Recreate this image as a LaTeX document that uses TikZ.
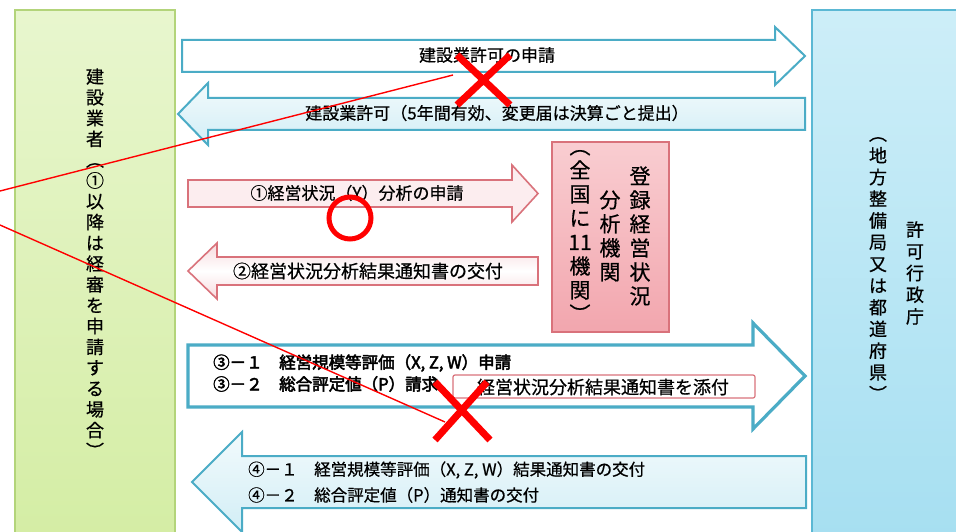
\documentclass[tikz,border=0pt]{standalone}
\usepackage{fontspec}
\setmainfont{Noto Sans CJK JP}[FakeBold=0.6]
\newfontfamily\jpbold[FakeBold=3]{Noto Sans CJK JP}
\definecolor{tealb}{HTML}{4BACC6}
\definecolor{greenb}{HTML}{B3D47A}
\definecolor{greenT}{HTML}{E8F6CE}
\definecolor{greenB}{HTML}{D4EDA4}
\definecolor{blueb}{HTML}{5BB8D4}
\definecolor{blueT}{HTML}{CDEEF8}
\definecolor{blueB}{HTML}{A6DFF1}
\definecolor{cyanT}{HTML}{F2FAFC}
\definecolor{cyanB}{HTML}{D2EEF6}
\definecolor{pinkD}{HTML}{D9727B}
\definecolor{pinkL}{HTML}{FCEDEF}
\definecolor{pinkM}{HTML}{F8DADD}
\definecolor{pinkT}{HTML}{F9CDD1}
\definecolor{pinkB}{HTML}{F2A6AE}
\begin{document}
\begin{tikzpicture}[x=1pt,y=-1pt,
  vtext/.style={align=center, inner sep=0pt},
  htext/.style={inner sep=0pt, font=\fontsize{17}{20}\selectfont},
  tealarrow/.style={draw=tealb, line width=2pt, line join=miter},
  pinkarrow/.style={draw=pinkD, line width=1.6pt, line join=miter},
  redmark/.style={draw=red, line width=7pt},
  redline/.style={draw=red, line width=1.4pt}]
\useasboundingbox (0,0) rectangle (956,532);
\clip (0,0) rectangle (956,532);
\fill[white] (0,0) rectangle (956,532);

% side boxes
\draw[draw=greenb, line width=1.2pt, top color=greenT, bottom color=greenB] (15,10) rectangle (175,545);
\draw[draw=blueb, line width=1.5pt, top color=blueT, bottom color=blueB] (812,10) rectangle (975,545);

\node[vtext, font=\fontsize{18}{20.8}\selectfont] (contractor) at (95,263)
  {建\\設\\業\\者\\︵\\①\\以\\降\\は\\経\\審\\を\\申\\請\\す\\る\\場\\合\\︶};
\node[vtext, font=\fontsize{18}{21.7}\selectfont] (authA) at (915,273)
  {許\\可\\行\\政\\庁};
\node[vtext, font=\fontsize{18}{21.7}\selectfont] (authB) at (878,269)
  {︵\\地\\方\\整\\備\\局\\又\\は\\都\\道\\府\\県\\︶};

% arrow 1
\draw[tealarrow, fill=white] (182,40) -- (775,40) -- (775,27) -- (805,56) -- (775,85) -- (775,72) -- (182,72) -- cycle;
\node[htext] (t1) at (487,55) {建設業許可の申請};
% arrow 2
\draw[tealarrow, top color=cyanT, bottom color=cyanB] (805,98) -- (208,98) -- (208,83) -- (178,114) -- (208,145) -- (208,130) -- (805,130) -- cycle;
\node[htext] (t2) at (497,113) {建設業許可（5年間有効、変更届は決算ごと提出）};

% pink arrows
\draw[pinkarrow, fill=pinkL] (188,180) -- (512,180) -- (512,165) -- (538,193.5) -- (512,222) -- (512,207) -- (188,207) -- cycle;
\node[htext] (t3) at (357,193) {①経営状況（Y）分析の申請};
\draw[pinkarrow, top color=pinkM, bottom color=pinkM, middle color=white] (538,257) -- (217,257) -- (217,243) -- (188,271) -- (217,299) -- (217,285) -- (538,285) -- cycle;
\node[htext, font=\fontsize{18}{20}\selectfont] (t4) at (368,271) {②経営状況分析結果通知書の交付};

% pink box
\draw[draw=pinkD, line width=1.2pt, top color=pinkT, bottom color=pinkB] (552,142) rectangle (669,332);
\node[vtext, font=\fontsize{21}{24}\selectfont] (reg1) at (640,236) {登\\録\\経\\営\\状\\況};
\node[vtext, font=\fontsize{21}{24}\selectfont] (reg2) at (610,236) {分\\析\\機\\関};
\node[vtext, font=\fontsize{21}{24}\selectfont] (reg3) at (580,236) {︵\\全\\国\\に\\11\\機\\関\\︶};

% big arrow 5
\draw[tealarrow, line width=3.2pt, fill=white] (188,345) -- (753,345) -- (753,323) -- (805,376) -- (753,429) -- (753,407) -- (188,407) -- cycle;
\node[htext, font=\jpbold\fontsize{16.5}{20}\selectfont, anchor=west] (t5a) at (213,363) {③－１　経営規模等評価（X, Z, W）申請};
\node[htext, font=\jpbold\fontsize{16.5}{20}\selectfont, anchor=west] (t5b) at (213,384) {③－２　総合評定値（P）請求};
\draw[draw=pinkD, line width=1.2pt, fill=white, rounded corners=2pt] (453,375) rectangle (755,398);
\node[htext, font=\fontsize{18}{20}\selectfont] (attach) at (603,387) {経営状況分析結果通知書を添付};

% big arrow 6
\draw[tealarrow, top color=cyanT, bottom color=cyanB] (806,456) -- (242,456) -- (242,432) -- (192,482) -- (242,532) -- (242,508) -- (806,508) -- cycle;
\node[htext, font=\fontsize{16.5}{20}\selectfont, anchor=west] (t6a) at (248,470) {④－１　経営規模等評価（X, Z, W）結果通知書の交付};
\node[htext, font=\fontsize{16.5}{20}\selectfont, anchor=west] (t6b) at (248,495) {④－２　総合評定値（P）通知書の交付};

% red marks
\coordinate (l1a) at (0,191);
\coordinate (l1b) at (453,75);
\coordinate (l2a) at (0,225);
\coordinate (l2b) at (445,422);
\draw[redline] (l1a) -- (l1b);
\draw[redline] (l2a) -- (l2b);
\node[circle, draw=red, line width=5pt, minimum size=42pt, inner sep=0pt] (okmark) at (350,218) {};
\coordinate (x1a) at (457,55); \coordinate (x1b) at (510,105);
\coordinate (x1c) at (510,55); \coordinate (x1d) at (457,105);
\draw[redmark] (x1a) -- (x1b) (x1c) -- (x1d);
\coordinate (x2a) at (435,382); \coordinate (x2b) at (490,440);
\coordinate (x2c) at (487,382); \coordinate (x2d) at (435,440);
\draw[redmark] (x2a) -- (x2b) (x2c) -- (x2d);
\end{tikzpicture}
\end{document}
